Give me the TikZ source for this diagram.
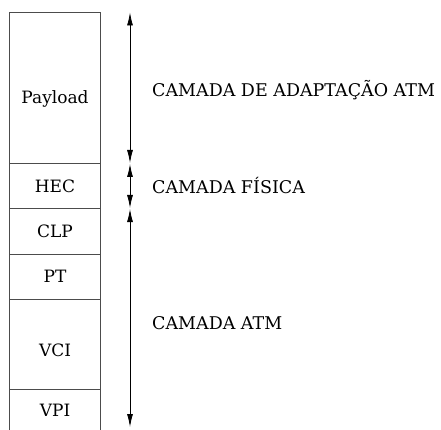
\documentclass[tikz,border=0pt]{standalone}
\usepackage{fontspec}
\setmainfont{DejaVu Serif}
\usetikzlibrary{arrows.meta}
\begin{document}
\begin{tikzpicture}[x=1pt,y=-1pt,
  cell/.style={draw=black!70,line width=0.8pt},
  lbl/.style={font=\fontsize{17.5}{20}\selectfont,anchor=west,inner sep=0pt},
  cl/.style={font=\fontsize{17}{20}\selectfont,inner sep=0pt},
  span/.style={line width=0.8pt,{Latex[length=13pt,width=6pt]}-{Latex[length=13pt,width=6pt]}}]
\useasboundingbox (0,0) rectangle (441,430);
% column
\draw[cell] (9.5,430) -- (9.5,12.5) -- (100,12.5) -- (100,430);
\draw[cell] (9.5,163.5) -- (100,163.5);
\draw[cell] (9.5,208.5) -- (100,208.5);
\draw[cell] (9.5,254) -- (100,254);
\draw[cell] (9.5,299) -- (100,299);
\draw[cell] (9.5,389) -- (100,389);
\node[cl] (pay) at (55,99) {Payload};
\node[cl] (hec) at (55,186) {HEC};
\node[cl] (clp) at (55,231) {CLP};
\node[cl] (pt) at (55,276) {PT};
\node[cl] (vci) at (55,350) {VCI};
\node[cl] (vpi) at (55,410) {VPI};
% arrows
\coordinate (a1) at (130,12.5);
\coordinate (b1) at (130,163);
\coordinate (a2) at (130,164);
\coordinate (b2) at (130,208);
\coordinate (a3) at (130,209);
\coordinate (b3) at (130,427);
\draw[span] (a1) -- (b1);
\draw[span] (a2) -- (b2);
\draw[span] (a3) -- (b3);
% labels
\node[lbl] (l1) at (152,90) {CAMADA DE ADAPTAÇÃO ATM};
\node[lbl] (l2) at (152,186) {CAMADA FÍSICA};
\node[lbl] (l3) at (152,323) {CAMADA ATM};
\end{tikzpicture}
\end{document}
